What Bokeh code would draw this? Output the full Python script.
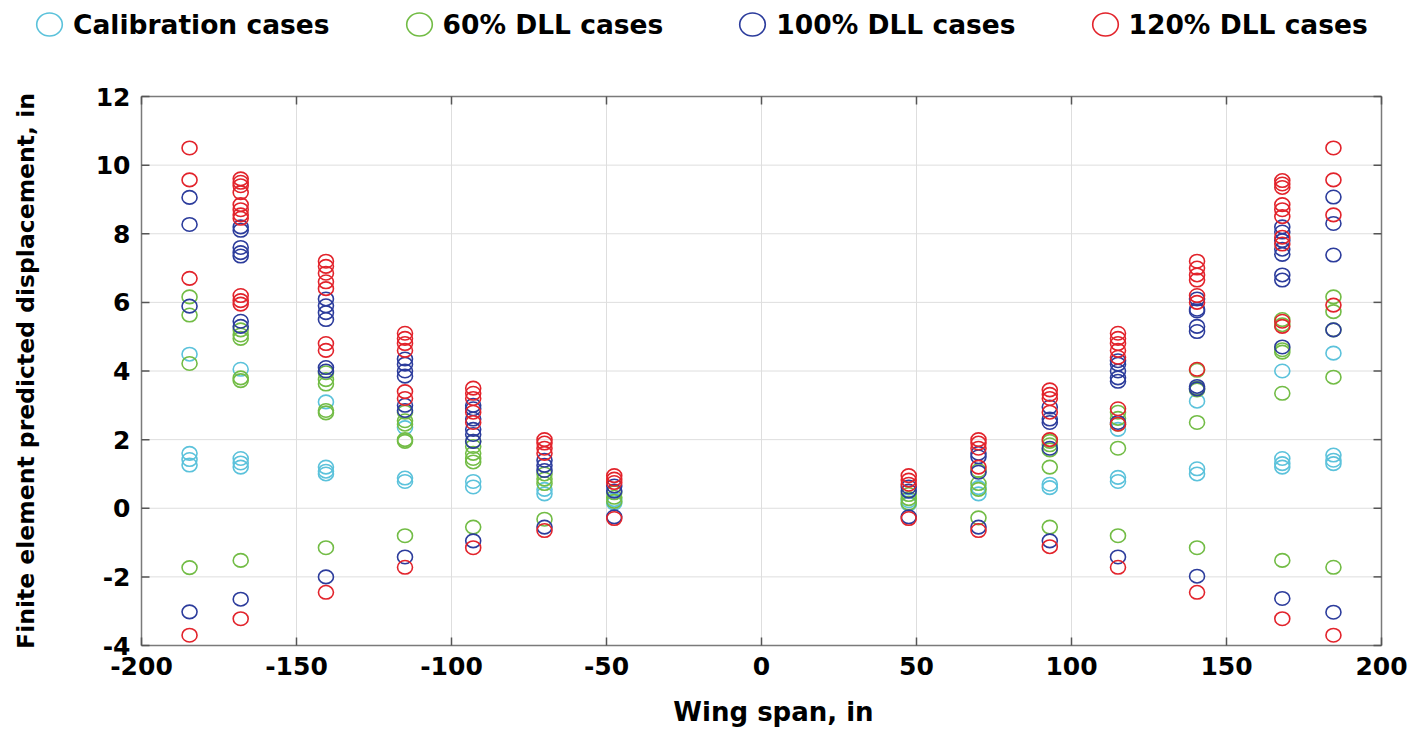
import numpy as np
from bokeh.plotting import figure
from bokeh.models import Range1d, Legend, LegendItem, ColumnDataSource
from bokeh.core.properties import value
from bokeh.embed import file_html
from bokeh.resources import INLINE

# ---------------- data ----------------
stations = [-184.5, -168, -140.5, -115, -93, -70, -47.5,
            47.5, 70, 93, 115, 140.5, 168, 184.5]

calibration = [
    [4.49, 1.6, 1.42, 1.26],
    [4.05, 1.45, 1.32, 1.2],
    [3.1, 1.2, 1.08, 1.0],
    [2.35, 0.88, 0.78],
    [0.78, 0.62],
    [0.55, 0.42],
    [0.25, 0.15],
    [0.22, 0.12],
    [0.6, 0.42],
    [0.7, 0.6],
    [2.3, 0.9, 0.78],
    [3.12, 1.15, 1.0],
    [4.0, 1.45, 1.3, 1.2],
    [4.52, 1.55, 1.4, 1.3],
]

dll60 = [
    [6.16, 5.63, 4.22, -1.73],
    [5.2, 5.05, 4.95, 3.8, 3.72, -1.52],
    [3.95, 3.75, 3.62, 2.85, 2.78, -1.15],
    [2.8, 2.55, 2.45, 2.0, 1.95, -0.8],
    [1.95, 1.8, 1.6, 1.45, 1.35, -0.55],
    [1.0, 0.85, 0.72, -0.32],
    [0.45, 0.32, 0.2],
    [0.4, 0.28, 0.15],
    [1.1, 0.72, 0.55, -0.28],
    [1.95, 1.85, 1.7, 1.2, -0.55],
    [2.8, 2.62, 2.45, 1.75, -0.8],
    [4.02, 3.5, 3.45, 2.5, -1.15],
    [5.5, 5.35, 4.62, 4.55, 3.35, -1.52],
    [6.16, 5.73, 5.2, 3.82, -1.72],
]

dll100 = [
    [9.06, 8.27, 5.89, -3.02],
    [8.2, 8.1, 7.6, 7.45, 7.35, 5.45, 5.3, -2.65],
    [6.1, 5.9, 5.7, 5.5, 4.1, 4.0, -2.0],
    [4.35, 4.2, 4.0, 3.85, 3.0, 2.85, -1.42],
    [3.0, 2.9, 2.6, 2.3, 2.15, 1.95, -0.95],
    [1.4, 1.25, 1.1, -0.55],
    [0.65, 0.5, -0.25],
    [0.62, 0.5, -0.25],
    [1.6, 1.5, 1.05, -0.55],
    [2.95, 2.6, 2.5, 1.75, -0.95],
    [4.3, 4.2, 4.0, 3.8, 3.7, 2.5, -1.42],
    [6.1, 5.8, 5.75, 5.3, 5.15, 3.55, 3.48, -1.98],
    [8.2, 8.05, 7.8, 7.55, 7.4, 6.8, 6.65, 4.7, -2.63],
    [9.07, 8.3, 7.38, 5.2, -3.03],
]

dll120 = [
    [10.5, 9.57, 6.7, -3.7],
    [9.6, 9.5, 9.4, 9.2, 8.85, 8.7, 8.55, 8.45, 6.2, 6.05, 5.95, -3.22],
    [7.2, 7.05, 6.85, 6.6, 6.4, 4.8, 4.6, -2.45],
    [5.1, 4.95, 4.8, 4.6, 3.4, 3.2, -1.72],
    [3.5, 3.35, 3.2, 2.8, 2.5, -1.15],
    [2.0, 1.9, 1.75, 1.6, -0.65],
    [0.95, 0.85, 0.75, -0.3],
    [0.95, 0.82, 0.7, -0.3],
    [2.0, 1.9, 1.75, 1.2, -0.65],
    [3.45, 3.32, 3.2, 2.8, 2.0, -1.12],
    [5.1, 4.95, 4.8, 4.6, 4.4, 2.9, 2.45, -1.72],
    [7.2, 7.0, 6.8, 6.65, 6.2, 6.0, 4.05, -2.45],
    [9.55, 9.45, 9.35, 8.85, 8.7, 8.5, 7.9, 7.7, 5.45, 5.3, -3.22],
    [10.5, 9.57, 8.55, 5.92, -3.7],
]

series_labels = ["Calibration cases", "60% DLL cases", "100% DLL cases", "120% DLL cases"]
series_colors = ["#5BC2DB", "#72BC45", "#2C3C9C", "#E2232B"]
x_ticks = [-200, -150, -100, -50, 0, 50, 100, 150, 200]
y_ticks = [-4, -2, 0, 2, 4, 6, 8, 10, 12]
x_label = "Wing span, in"
y_label = "Finite element predicted displacement, in"


def flatten(values):
    xs, ys = [], []
    for s, v in zip(stations, values):
        xs += [s] * len(v)
        ys += list(v)
    return xs, ys


# ---------------- layout constants (pixels) ----------------
FONT = "DejaVu Sans"
W, H = 1421, 736
BOX_L, BOX_R, BOX_T, BOX_B = 141, 1381, 96, 645     # axes box on the page
X0, X1 = x_ticks[0], x_ticks[-1]
Y0, Y1 = y_ticks[0], y_ticks[-1]
kx = (BOX_R - BOX_L) / (X1 - X0)
ky = (BOX_B - BOX_T) / (Y1 - Y0)
TICK = 8
BOX_COLOR = "#7a7a7a"
TICK_COLOR = "#555555"
GRID_COLOR = "#dedede"

p = figure(width=W, height=H,
           x_range=Range1d(X0 - BOX_L / kx, X1 + (W - BOX_R) / kx),
           y_range=Range1d(Y0 - (H - BOX_B) / ky, Y1 + BOX_T / ky),
           output_backend="svg", toolbar_location=None,
           x_axis_location=None, y_axis_location=None,
           min_border_left=0, min_border_right=0, min_border_top=0,
           min_border_bottom=0)
p.background_fill_color = "white"
p.border_fill_color = "white"
p.outline_line_color = None
p.grid.visible = False

# grid lines inside the box
gx = x_ticks[1:-1]
gy = y_ticks[1:-1]
p.segment(x0=gx, y0=[Y0] * len(gx), x1=gx, y1=[Y1] * len(gx),
          line_color=GRID_COLOR, line_width=1)
p.segment(x0=[X0] * len(gy), y0=gy, x1=[X1] * len(gy), y1=gy,
          line_color=GRID_COLOR, line_width=1)

# data
renderers = []
for vals, col in zip([calibration, dll60, dll100, dll120], series_colors):
    xs, ys = flatten(vals)
    src = ColumnDataSource(dict(x=xs, y=ys))
    r = p.ellipse("x", "y", source=src, width=15, height=13.5, width_units="screen",
                  height_units="screen", fill_color=None, line_color=col, line_width=1.6)
    renderers.append(r)

# axes box
p.segment(x0=[X0, X1, X0, X0], y0=[Y0, Y0, Y1, Y0], x1=[X0, X1, X1, X1], y1=[Y1, Y1, Y1, Y0],
          line_color=BOX_COLOR, line_width=1.5)
# inward ticks on all four edges
ny, nx = len(y_ticks), len(x_ticks)
p.segment(x0=[X0] * ny, y0=y_ticks, x1=[X0 + TICK / kx] * ny, y1=y_ticks,
          line_color=TICK_COLOR, line_width=1.5)
p.segment(x0=[X1] * ny, y0=y_ticks, x1=[X1 - TICK / kx] * ny, y1=y_ticks,
          line_color=TICK_COLOR, line_width=1.5)
p.segment(x0=x_ticks, y0=[Y1] * nx, x1=x_ticks, y1=[Y1 - TICK / ky] * nx,
          line_color=TICK_COLOR, line_width=1.5)
p.segment(x0=x_ticks, y0=[Y0] * nx, x1=x_ticks, y1=[Y0 + TICK / ky] * nx,
          line_color=TICK_COLOR, line_width=1.5)

txt = dict(text_font=value(FONT), text_font_style="bold", text_color="black")

# tick labels
p.text(x=[X0] * ny, y=y_ticks, text=[str(t) for t in y_ticks],
       x_offset=-11, text_align="right", text_baseline="middle",
       text_font_size="25px", **txt)
p.text(x=x_ticks, y=[Y0] * nx, text=[str(t) for t in x_ticks],
       y_offset=11, text_align="center", text_baseline="top",
       text_font_size="25px", **txt)

# axis labels
p.text(x=[(X0 + X1) / 2], y=[Y0], text=[x_label], x_offset=12, y_offset=66,
       text_align="center", text_baseline="middle", text_font_size="26px", **txt)
p.text(x=[X0], y=[(Y0 + Y1) / 2], text=[y_label], x_offset=-116, angle=np.pi / 2,
       text_align="center", text_baseline="middle", text_font_size="23.5px", **txt)

# legend strip along the top
items = [LegendItem(label=lab, renderers=[r]) for lab, r in zip(series_labels, renderers)]
legend = Legend(items=items, orientation="horizontal", location=(33, H - 40),
                glyph_width=32, glyph_height=32, label_standoff=8, spacing=73,
                padding=0, margin=0, background_fill_alpha=0, border_line_alpha=0,
                label_text_font=FONT, label_text_font_style="bold",
                label_text_font_size="26.5px", label_text_color="black")
p.add_layout(legend, "center")

open("out.html", "w").write(file_html(p, INLINE))
